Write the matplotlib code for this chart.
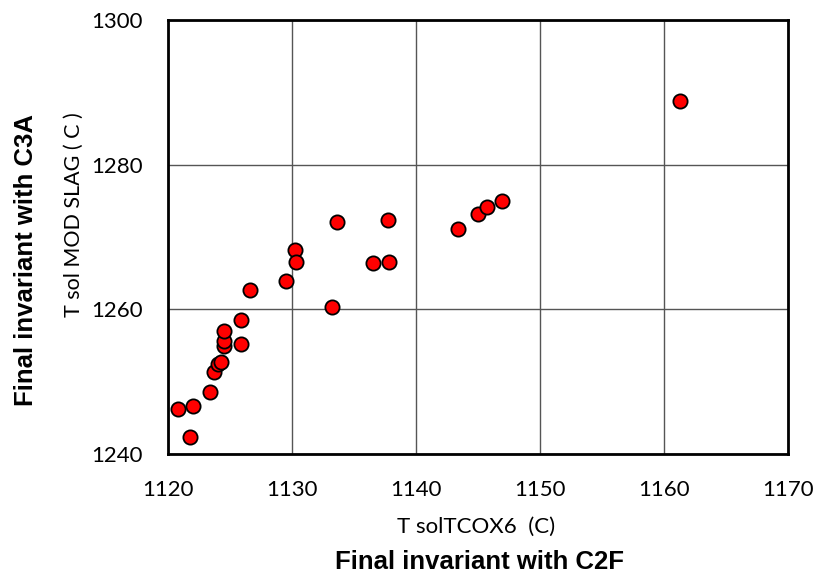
import matplotlib.pyplot as plt

# values
t_sol_tcox6 = [1120.8, 1122.0, 1121.8, 1123.4, 1123.7, 1124.0, 1124.3, 1124.5, 1124.5,
               1124.5, 1125.9, 1125.9, 1126.6, 1129.5, 1130.2, 1130.3, 1133.2, 1133.6,
               1136.5, 1137.8, 1137.7, 1143.4, 1145.0, 1145.7, 1146.9, 1161.3]
t_sol_mod_slag = [1246.2, 1246.6, 1242.3, 1248.6, 1251.3, 1252.5, 1252.7, 1254.9, 1255.6,
                  1257.0, 1255.2, 1258.5, 1262.7, 1263.9, 1268.2, 1266.5, 1260.3, 1272.1,
                  1266.4, 1266.6, 1272.4, 1271.1, 1273.2, 1274.1, 1275.0, 1288.8]
x_ticks = [1120, 1130, 1140, 1150, 1160, 1170]
y_ticks = [1240, 1260, 1280, 1300]

fig = plt.figure(figsize=(8.16, 5.84), dpi=100)
ax = fig.add_axes([0.206, 0.2226, 0.760, 0.743])

ax.scatter(t_sol_tcox6, t_sol_mod_slag, s=105, c='#ff0000', edgecolors='black',
           linewidths=1.3, zorder=3, clip_on=False)

ax.set_xlim(1120, 1170)
ax.set_ylim(1240, 1300)
ax.set_xticks(x_ticks)
ax.set_yticks(y_ticks)
ax.grid(True, color='#555555', linewidth=1)
ax.set_axisbelow(True)
ax.tick_params(length=0, labelsize=16)
ax.tick_params(axis='x', pad=19)
ax.tick_params(axis='y', pad=18)
for lab in ax.get_xticklabels() + ax.get_yticklabels():
    lab.set_family('Lato')
for s in ax.spines.values():
    s.set_linewidth(2)

# axis titles placed by hand like the original
fig.text(0.583, 0.0873, 'T solTCOX6  (C)', fontsize=16, family='Lato',
         ha='center', va='baseline')
fig.text(0.091, 0.632, 'T sol MOD SLAG ( C )', fontsize=15.5, family='Lato',
         ha='center', va='center', rotation=90)

fig.text(0.588, 0.0257, 'Final invariant with C2F', fontsize=18.5, fontweight='bold',
         family='Liberation Sans', ha='center', va='baseline')
fig.text(0.032, 0.555, 'Final invariant with C3A', fontsize=18.5, fontweight='bold',
         family='Liberation Sans', ha='center', va='center', rotation=90)

plt.savefig('out.png')
